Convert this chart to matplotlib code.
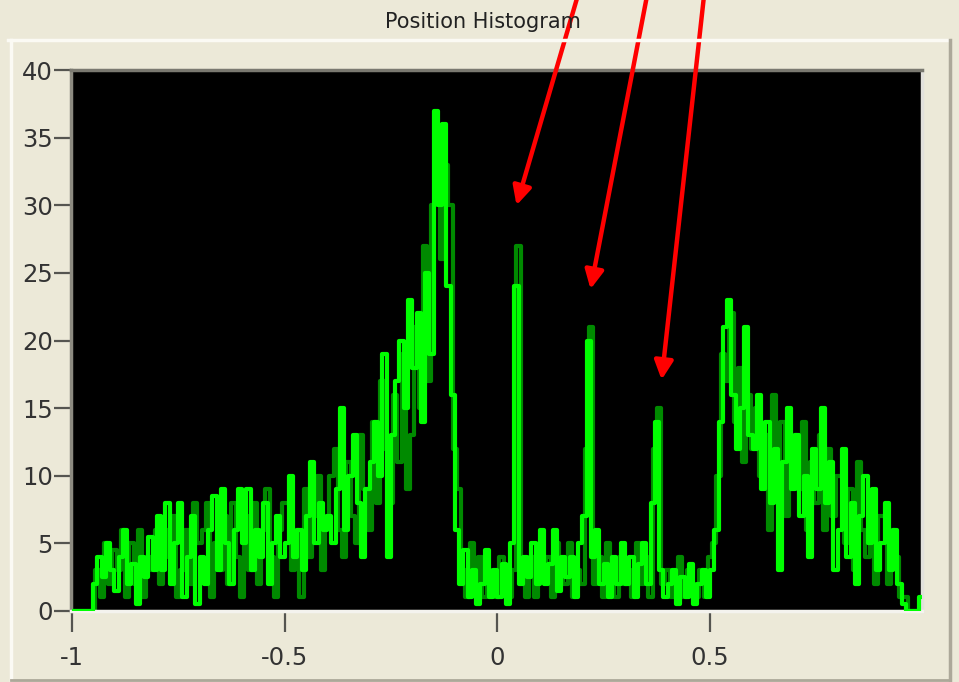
import matplotlib
matplotlib.use('Agg')
import matplotlib.pyplot as plt
from matplotlib import font_manager
from matplotlib.lines import Line2D
import numpy as np

# histogram counts, 200 bins of width 0.01 from -1 to 1 (one row per 0.1)
counts = [
    0, 0, 0, 0, 0, 2, 4, 2.5, 5, 3,
    1.5, 4, 6, 2, 3.5, 0.5, 4, 2.5, 5.5, 3,
    7, 3, 8, 2, 5, 8, 1, 4, 7, 0.5,
    4, 2, 6, 8.5, 3, 9, 5, 2, 6, 9,
    5, 9, 3, 6, 4, 8, 2, 5, 7, 4,
    5, 10, 4, 6, 3, 7, 11, 5, 8, 6,
    7, 5, 9, 15, 6, 10, 13, 8, 4, 9,
    11, 14, 10, 19, 4, 13, 17, 20, 15, 23,
    18, 22, 14, 25, 19, 37, 30, 36, 24, 16,
    6, 2, 4.5, 1, 3, 0.5, 2, 4.5, 1, 3,
    1, 3.5, 0.5, 5, 24, 2, 4, 2.5, 5, 2,
    6, 2, 3.5, 6, 1.5, 4, 2.5, 4, 1, 5,
    7, 20, 4, 6, 2, 3.5, 1, 4, 2, 5,
    2, 4, 1, 3.5, 5, 2, 8, 14, 3, 1,
    2, 3, 0.5, 2.5, 1, 3.5, 0.5, 2, 3, 1,
    3, 6, 14, 21, 23, 16, 12, 15, 21, 13,
    12, 16, 9, 14, 8, 12, 3, 11, 15, 9,
    13, 7, 10, 4, 12, 9, 15, 8, 11, 3,
    6, 12, 4, 8, 2, 7, 10, 5, 9, 3,
    5, 8, 3, 6, 2, 0.5, 0, 0, 0, 1,
]
# darker trace seen between the bright columns (same bins, shifted half a bin)
counts_dark = [
    0, 0, 0, 0, 0, 3, 1, 5, 2, 4.5,
    3, 6, 1, 5, 2, 6, 1, 4, 3, 6,
    2, 6, 4, 7, 1, 3, 6, 2, 8, 5,
    6, 8, 1, 5, 3, 7, 2, 8, 4, 1,
    7, 3, 8, 2, 6, 9, 4, 1, 6, 8,
    8, 3, 6, 1, 9, 4, 7, 10, 3, 7,
    10, 12, 6, 4, 11, 7, 5, 13, 9, 6,
    14, 8, 17, 12, 8, 16, 11, 19, 9, 13,
    21, 15, 27, 17, 30, 34, 26, 33, 30, 12,
    9, 3, 1, 5, 2, 4, 1, 3, 2, 1,
    4, 2, 1, 3, 27, 3, 1, 4, 1, 3,
    3, 4, 1, 5, 3, 2, 5, 1, 3, 2,
    12, 21, 2, 4, 1, 5, 3, 1, 4, 2,
    3, 1, 5, 2, 4, 1, 12, 15, 2, 3,
    1, 2, 4, 1, 3, 2, 1, 3, 1, 4,
    5, 10, 19, 17, 22, 14, 18, 11, 16, 12,
    15, 10, 13, 6, 16, 10, 14, 7, 12, 13,
    9, 14, 6, 11, 8, 13, 6, 12, 7, 10,
    10, 5, 9, 3, 11, 6, 4, 8, 2, 7,
    7, 2, 6, 4, 1, 1, 0, 0, 0, 0.5,
]
bin_lo, bin_hi = -1.0, 1.0

x_ticks = [-1, -0.5, 0, 0.5]
x_tick_labels = ['-1', '-0.5', '0', '0.5']
y_ticks = [0, 5, 10, 15, 20, 25, 30, 35, 40]

# arrows: (tip x, tip y, tail x, tail y)
arrow_tips_x = [0.045, 0.219, 0.386]
arrow_tips_y = [30.0, 23.8, 17.1]
arrow_tails_x = [0.203, 0.361, 0.491]
arrow_tails_y = [47.0, 47.0, 47.0]

# pick a narrow font if present
try:
    font_manager.findfont('Liberation Sans Narrow', fallback_to_default=False)
    label_font = 'Liberation Sans Narrow'
    tick_size, title_size = 22, 19.5
except ValueError:
    label_font = 'DejaVu Sans'
    tick_size, title_size = 17.5, 15
plt.rcParams['font.family'] = [label_font, 'DejaVu Sans']

bg = '#ECE9D8'
fig = plt.figure(figsize=(9.59, 6.82), dpi=100, facecolor=bg)
ax = fig.add_axes([71 / 959, 71 / 682, 851 / 959, 541 / 682])
ax.set_facecolor('black')

n = len(counts)
edges = np.linspace(bin_lo, bin_hi, n + 1)
centers = (edges[:-1] + edges[1:]) / 2
half = (edges[1] - edges[0]) / 2

# dark green trace behind, bright green trace in front
ax.plot(centers + half, counts_dark, drawstyle='steps-mid', color='#008a00', linewidth=3.0, zorder=2)
ax.plot(centers, counts, drawstyle='steps-mid', color='#00ff00', linewidth=3.0, zorder=3)

ax.set_xlim(-1.002, 0.998)
ax.set_ylim(0, 40)
ax.set_xticks(x_ticks)
ax.set_xticklabels(x_tick_labels)
ax.set_yticks(y_ticks)

ax.tick_params(axis='y', direction='out', length=12, width=1.6, color='#555550',
               pad=1, labelsize=tick_size, labelcolor='#333333')
ax.tick_params(axis='x', direction='out', length=15, width=1.6, color='#555550',
               pad=10, labelsize=tick_size, labelcolor='#333333')

# sunken 3D border of the plot area
ax.spines['left'].set_color('#8C8A80')
ax.spines['top'].set_color('#7A7970')
ax.spines['bottom'].set_color('#F4F3EE')
ax.spines['right'].set_color('#E2E1DC')
for s in ax.spines.values():
    s.set_linewidth(2.5)

# red arrows coming in from above the figure
for tx, ty, sx, sy in zip(arrow_tips_x, arrow_tips_y, arrow_tails_x, arrow_tails_y):
    ax.annotate('', xy=(tx, ty), xytext=(sx, sy), annotation_clip=False,
                arrowprops=dict(arrowstyle='-|>', color='#ff0000', lw=3.2,
                                mutation_scale=28, shrinkA=0, shrinkB=0),
                zorder=5)

fig.text(483 / 959, 1 - 22 / 682, 'Position Histogram', ha='center', va='center',
         fontsize=title_size, color='#222222')

# group box lines around the graph
def fig_line(x0, y0, x1, y1, color, lw):
    fig.add_artist(Line2D([x0 / 959, x1 / 959], [1 - y0 / 682, 1 - y1 / 682],
                          transform=fig.transFigure, color=color, linewidth=lw))

fig_line(8, 40, 948, 40, '#FBFAF4', 2.5)
fig_line(11, 40, 11, 682, '#FBFAF4', 2.5)
fig_line(950, 40, 950, 682, '#ACA899', 2.5)
fig_line(11, 680, 950, 680, '#ACA899', 2)

plt.savefig('out.png', dpi=100, facecolor=bg)
plt.close()
